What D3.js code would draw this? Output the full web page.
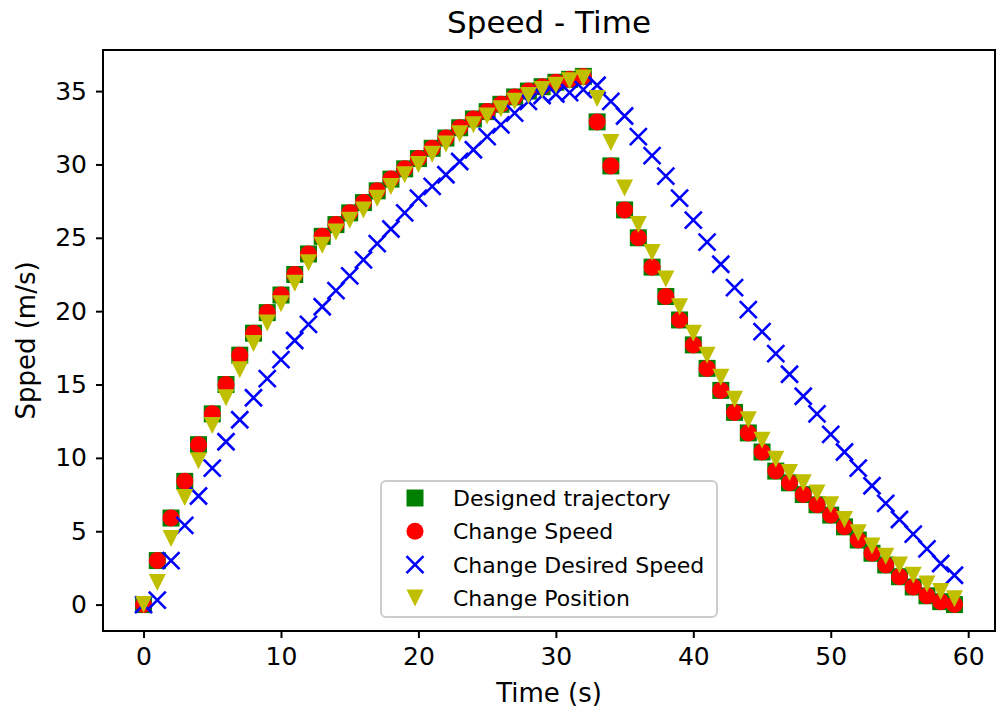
<!DOCTYPE html>
<html>
<head>
<meta charset="utf-8">
<script src="https://cdn.jsdelivr.net/npm/d3@7"></script>
<style>
  body { margin: 0; background: #fff; }
  text { font-family: "DejaVu Sans", sans-serif; fill: #000; }
</style>
</head>
<body>
<div id="grafico"></div>
<script>
// tempo (s)
var tempo = [0,1,2,3,4,5,6,7,8,9,10,11,12,13,14,15,16,17,18,19,20,21,22,23,24,25,26,27,28,29,
  30,31,32,33,34,35,36,37,38,39,40,41,42,43,44,45,46,47,48,49,50,51,52,53,54,55,56,57,58,59];

// velocidades (m/s)
var designedTrajectory = [0,3.0,5.9,8.4,10.9,13.0,15.0,17.0,18.5,19.9,21.1,22.5,23.9,25.1,25.9,26.7,27.4,28.2,29.0,29.7,
  30.4,31.1,31.8,32.5,33.1,33.6,34.1,34.6,35.0,35.3,35.6,35.8,36.0,32.9,29.9,26.9,25.0,23.0,21.0,19.4,
  17.7,16.1,14.6,13.1,11.7,10.4,9.1,8.3,7.5,6.8,6.1,5.3,4.4,3.5,2.7,1.9,1.2,0.6,0.2,0];

var changeSpeed = [0,3.0,5.9,8.4,10.9,13.0,15.0,17.0,18.5,19.9,21.1,22.5,23.9,25.1,25.9,26.7,27.4,28.2,29.0,29.7,
  30.4,31.1,31.8,32.5,33.1,33.6,34.1,34.6,35.0,35.3,35.6,35.8,36.0,32.9,29.9,26.9,25.0,23.0,21.0,19.4,
  17.7,16.1,14.6,13.1,11.7,10.4,9.1,8.3,7.5,6.8,6.1,5.3,4.4,3.5,2.7,1.9,1.2,0.6,0.2,0];

var changeDesiredSpeed = [0,0.3,3.0,5.4,7.4,9.3,11.1,12.6,14.1,15.4,16.7,18.0,19.1,20.3,21.4,22.4,23.5,24.6,25.6,26.7,
  27.7,28.5,29.3,30.2,31.0,31.9,32.7,33.5,34.3,34.7,34.8,34.9,35.1,35.4,34.3,33.3,31.9,30.6,29.2,27.7,
  26.2,24.7,23.2,21.6,20.1,18.6,17.1,15.7,14.2,13.0,11.6,10.4,9.3,8.1,6.9,5.8,4.8,3.8,2.8,2.0];

var changePosition = [0,1.5,4.5,7.3,9.8,12.2,14.1,16.0,17.8,19.2,20.5,21.9,23.3,24.5,25.4,26.2,26.9,27.7,28.5,29.3,
  30.0,30.7,31.4,32.1,32.7,33.3,33.8,34.3,34.7,35.1,35.4,35.7,35.9,34.5,31.5,28.4,25.9,24.0,22.2,20.3,
  18.5,17.0,15.5,14.0,12.6,11.2,9.9,9.0,8.3,7.6,6.8,5.8,4.9,4.0,3.3,2.7,2.0,1.4,0.9,0.4];

var xTicks = [0,10,20,30,40,50,60];
var yTicks = [0,5,10,15,20,25,30,35];

var legendas = ['Designed trajectory','Change Speed','Change Desired Speed','Change Position'];

var width = 1004,
    height = 714,
    esq = 103, dir = 995, topo = 50, base = 631,
    ms = 17,           // tamanho do marcador
    fonteTick = 25,
    fonteLeg = 22,
    fonteRot = 26;

var svg = d3.select("#grafico").append("svg")
    .attr("width", width)
    .attr("height", height);

// margens de 5% como no matplotlib
var tMin = d3.min(tempo), tMax = d3.max(tempo);
var todos = designedTrajectory.concat(changeSpeed, changeDesiredSpeed, changePosition);
var vMin = d3.min(todos), vMax = d3.max(todos);
var padT = (tMax - tMin) * 0.05, padV = (vMax - vMin) * 0.05;

var x = d3.scaleLinear().domain([tMin - padT, tMax + padT]).range([esq, dir]);
var y = d3.scaleLinear().domain([vMin - padV, vMax + padV]).range([base, topo]);

// eixos
var eixoX = svg.append("g")
    .attr("transform", "translate(0," + base + ")")
    .call(d3.axisBottom(x).tickValues(xTicks).tickSize(7).tickPadding(9).tickFormat(d3.format("d")));
var eixoY = svg.append("g")
    .attr("transform", "translate(" + esq + ",0)")
    .call(d3.axisLeft(y).tickValues(yTicks).tickSize(7).tickPadding(9).tickFormat(d3.format("d")));

[eixoX, eixoY].forEach(function(g) {
  g.select(".domain").remove();
  g.selectAll(".tick line").attr("stroke", "#000").attr("stroke-width", 2);
  g.selectAll(".tick text")
    .attr("font-size", fonteTick)
    .attr("font-family", '"DejaVu Sans", sans-serif')
    .attr("fill", "#000");
});

svg.append("rect")
    .attr("x", esq).attr("y", topo)
    .attr("width", dir - esq).attr("height", base - topo)
    .attr("fill", "none").attr("stroke", "#000").attr("stroke-width", 2);

var h = ms / 2;
var trianguloPath = "M" + (-h) + "," + (-h) + "L" + h + "," + (-h) + "L0," + h + "Z";
var xPath = "M" + (-h) + "," + (-h) + "L" + h + "," + h + "M" + (-h) + "," + h + "L" + h + "," + (-h);

function estilo_marcador(sel, tipo, cor) {
  if (tipo == 'quadrado') {
    sel.attr("d", d3.symbol().type(d3.symbolSquare).size(ms * ms)()).attr("fill", cor);
  } else if (tipo == 'circulo') {
    sel.attr("d", d3.symbol().type(d3.symbolCircle).size(Math.PI * h * h)()).attr("fill", cor);
  } else if (tipo == 'x') {
    sel.attr("d", xPath).attr("fill", "none").attr("stroke", cor).attr("stroke-width", 2.6);
  } else {
    sel.attr("d", trianguloPath).attr("fill", cor);
  }
}

var series = [
  {v: designedTrajectory, tipo: 'quadrado', cor: '#008000'},
  {v: changeSpeed, tipo: 'circulo', cor: '#ff0000'},
  {v: changeDesiredSpeed, tipo: 'x', cor: '#0000ff'},
  {v: changePosition, tipo: 'triangulo', cor: '#bfbf00'}
];

series.forEach(function(s) {
  var pts = svg.append("g").selectAll("path").data(s.v).enter().append("path")
      .attr("transform", function(d, i) { return "translate(" + x(tempo[i]) + "," + y(d) + ")"; });
  estilo_marcador(pts, s.tipo, s.cor);
});

// titulo e rotulos
svg.append("text")
    .attr("x", (esq + dir) / 2).attr("y", 33)
    .attr("text-anchor", "middle")
    .attr("font-size", 31)
    .text("Speed - Time");

svg.append("text")
    .attr("x", (esq + dir) / 2).attr("y", 702)
    .attr("text-anchor", "middle")
    .attr("font-size", fonteRot)
    .text("Time (s)");

svg.append("text")
    .attr("transform", "translate(35," + (topo + base) / 2 + ") rotate(-90)")
    .attr("text-anchor", "middle")
    .attr("font-size", fonteRot)
    .text("Spped (m/s)");

// legenda
var leg = svg.append("g").attr("transform", "translate(381,481)");
leg.append("rect")
    .attr("width", 336).attr("height", 136)
    .attr("rx", 5).attr("ry", 5)
    .attr("fill", "#fff").attr("fill-opacity", 0.8)
    .attr("stroke", "#cccccc").attr("stroke-width", 2);

legendas.forEach(function(nome, i) {
  var cy = 17 + i * 33.3;
  var m = leg.append("path").attr("transform", "translate(34," + cy + ")");
  estilo_marcador(m, series[i].tipo, series[i].cor);

  leg.append("text")
      .attr("x", 72).attr("y", cy).attr("dy", "0.36em")
      .attr("font-size", fonteLeg)
      .text(nome);
});
</script>
</body>
</html>
